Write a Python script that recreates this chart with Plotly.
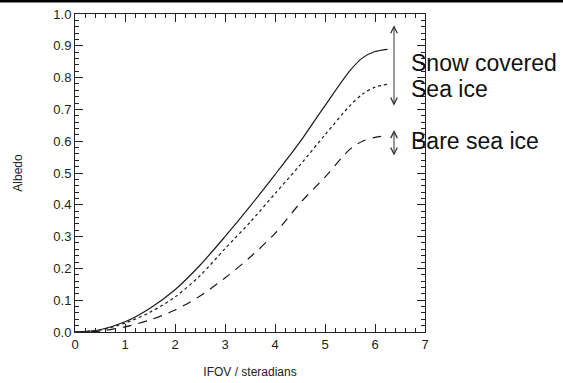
import plotly.graph_objects as go

# Data
ifov = [0, 0.5, 1.0, 1.5, 2.0, 2.5, 3.0, 3.5, 4.0, 4.5, 5.0, 5.5, 5.75, 6.0, 6.25]
snow_covered = [0, 0.007, 0.032, 0.075, 0.133, 0.21, 0.30, 0.395, 0.495, 0.598, 0.712, 0.822, 0.862, 0.882, 0.889]
sea_ice = [0, 0.006, 0.028, 0.062, 0.11, 0.177, 0.262, 0.345, 0.435, 0.525, 0.62, 0.712, 0.748, 0.77, 0.779]
bare_ice = [0, 0.003, 0.016, 0.038, 0.069, 0.113, 0.17, 0.235, 0.31, 0.405, 0.487, 0.575, 0.600, 0.612, 0.618]

x_ticks = [0, 1, 2, 3, 4, 5, 6, 7]
y_ticks = [0.0, 0.1, 0.2, 0.3, 0.4, 0.5, 0.6, 0.7, 0.8, 0.9, 1.0]

labels = ["Snow covered", "Sea ice", "Bare sea ice"]
label_y = [0.846, 0.764, 0.60]
arrow_x = 6.38
arrow_ranges = [(0.965, 0.707), (0.635, 0.55)]

W, H = 563, 383
L, R, T, B = 75, 138, 14, 51
PW, PH = W - L - R, H - T - B

fig = go.Figure()
line_col = "#1a1a1a"
fig.add_trace(go.Scatter(x=ifov, y=snow_covered, mode="lines", hoverinfo="skip",
                         line=dict(color=line_col, width=1.2, shape="spline", smoothing=0.8)))
fig.add_trace(go.Scatter(x=ifov, y=sea_ice, mode="lines", hoverinfo="skip",
                         line=dict(color=line_col, width=1.2, dash="3px,3px", shape="spline", smoothing=0.8)))
fig.add_trace(go.Scatter(x=ifov, y=bare_ice, mode="lines", hoverinfo="skip",
                         line=dict(color=line_col, width=1.2, dash="9px,7px", shape="spline", smoothing=0.8)))

annotations = []
for (y0, y1) in arrow_ranges:
    annotations.append(dict(x=arrow_x, y=y0, ax=arrow_x, ay=y1, xref="x", yref="y",
                            axref="x", ayref="y", text="", showarrow=True,
                            arrowhead=5, startarrowhead=5, arrowside="end+start",
                            arrowsize=1.3, arrowwidth=1, arrowcolor="#333333",
                            standoff=0, startstandoff=0))
for txt, yy in zip(labels, label_y):
    annotations.append(dict(x=6.68, y=yy, xref="x", yref="y", text=txt, showarrow=False,
                            xanchor="left", yanchor="middle",
                            font=dict(family="Liberation Sans, Arial, sans-serif", size=23, color="#111111")))

axis_common = dict(showline=True, linecolor="#222222", linewidth=1, mirror="allticks",
                   ticks="inside", ticklen=8, tickwidth=1, tickcolor="#222222",
                   showgrid=False, zeroline=False, automargin=False,
                   tickfont=dict(family="Liberation Sans, Arial, sans-serif", size=13, color="#222222"))

fig.update_layout(
    width=W, height=H,
    margin=dict(l=L, r=R, t=T, b=B),
    paper_bgcolor="white", plot_bgcolor="white",
    showlegend=False,
    annotations=annotations,
    xaxis=dict(range=[0, 7], tickvals=x_ticks, ticktext=[str(v) for v in x_ticks],
               minor=dict(dtick=0.2, ticks="inside", ticklen=4, tickcolor="#222222", showgrid=False),
               title=dict(text="IFOV / steradians", standoff=17,
                          font=dict(family="Liberation Sans, Arial, sans-serif", size=12, color="#222222")),
               **axis_common),
    yaxis=dict(range=[0, 1], tickvals=y_ticks, ticktext=[f"{v:.1f}" for v in y_ticks],
               minor=dict(dtick=0.02, ticks="inside", ticklen=4, tickcolor="#222222", showgrid=False),
               title=dict(text="Albedo", standoff=28,
                          font=dict(family="Liberation Sans, Arial, sans-serif", size=12, color="#222222")),
               **axis_common),
    shapes=[dict(type="rect", xref="paper", yref="paper", layer="above",
                 x0=-L / PW, x1=1 + R / PW,
                 y0=1 + (T - 2.5) / PH, y1=1 + T / PH,
                 fillcolor="black", line=dict(width=0))],
)

fig.write_html("out.html", config={"displayModeBar": False, "staticPlot": True},
               post_script="document.body.style.margin='0';document.body.style.overflow='hidden';")
